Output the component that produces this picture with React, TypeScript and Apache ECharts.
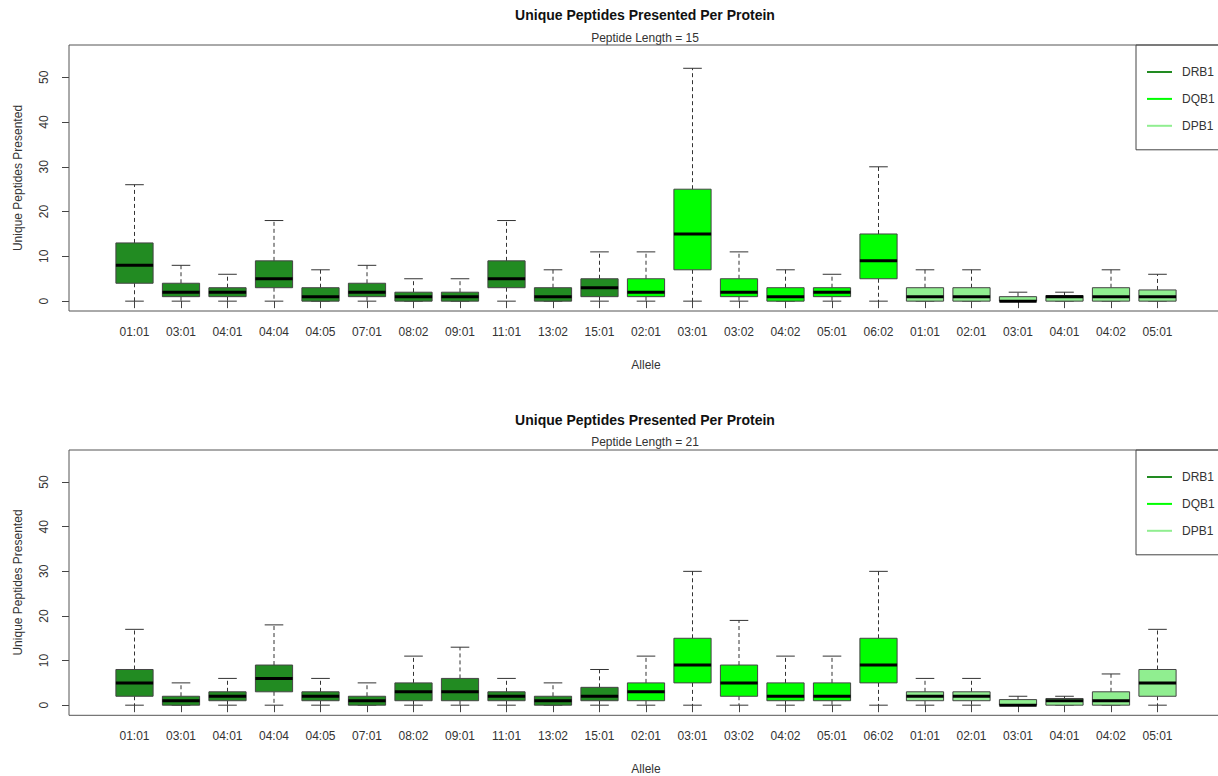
import React, { useEffect, useRef } from "react";
import * as echarts from "echarts";

// ---- data ----
const alleles = [
  "01:01", "03:01", "04:01", "04:04", "04:05", "07:01", "08:02", "09:01", "11:01", "13:02", "15:01",
  "02:01", "03:01", "03:02", "04:02", "05:01", "06:02",
  "01:01", "02:01", "03:01", "04:01", "04:02", "05:01",
];
const geneOfAllele = [
  "DRB1", "DRB1", "DRB1", "DRB1", "DRB1", "DRB1", "DRB1", "DRB1", "DRB1", "DRB1", "DRB1",
  "DQB1", "DQB1", "DQB1", "DQB1", "DQB1", "DQB1",
  "DPB1", "DPB1", "DPB1", "DPB1", "DPB1", "DPB1",
];
const genes = ["DRB1", "DQB1", "DPB1"];

// Peptide length = 15
const len15Min = [0, 0, 0, 0, 0, 0, 0, 0, 0, 0, 0, 0, 0, 0, 0, 0, 0, 0, 0, 0, 0, 0, 0];
const len15Q1 = [4, 1, 1, 3, 0, 1, 0, 0, 3, 0, 1, 1, 7, 1, 0, 1, 5, 0, 0, 0, 0, 0, 0];
const len15Median = [8, 2, 2, 5, 1, 2, 1, 1, 5, 1, 3, 2, 15, 2, 1, 2, 9, 1, 1, 0, 1, 1, 1];
const len15Q3 = [13, 4, 3, 9, 3, 4, 2, 2, 9, 3, 5, 5, 25, 5, 3, 3, 15, 3, 3, 1, 1.25, 3, 2.5];
const len15Max = [26, 8, 6, 18, 7, 8, 5, 5, 18, 7, 11, 11, 52, 11, 7, 6, 30, 7, 7, 2, 2, 7, 6];

// Peptide length = 21
const len21Min = [0, 0, 0, 0, 0, 0, 0, 0, 0, 0, 0, 0, 0, 0, 0, 0, 0, 0, 0, 0, 0, 0, 0];
const len21Q1 = [2, 0, 1, 3, 1, 0, 1, 1, 1, 0, 1, 1, 5, 2, 1, 1, 5, 1, 1, 0, 0, 0, 2];
const len21Median = [5, 1, 2, 6, 2, 1, 3, 3, 2, 1, 2, 3, 9, 5, 2, 2, 9, 2, 2, 0, 1, 1, 5];
const len21Q3 = [8, 2, 3, 9, 3, 2, 5, 6, 3, 2, 4, 5, 15, 9, 5, 5, 15, 3, 3, 1.25, 1.5, 3, 8];
const len21Max = [17, 5, 6, 18, 6, 5, 11, 13, 6, 5, 8, 11, 30, 19, 11, 11, 30, 6, 6, 2, 2, 7, 17];

const yTicks = [0, 10, 20, 30, 40, 50];
const mainTitle = "Unique Peptides Presented Per Protein";
const subTitles = ["Peptide Length = 15", "Peptide Length = 21"];

// ---- styles ----
const geneColors: Record<string, string> = { DRB1: "#228B22", DQB1: "#00FF00", DPB1: "#90EE90" };
const FONT = '"Liberation Sans", Arial, sans-serif';
const TEXT = "#333";

const panels = [
  { stats: [len15Min, len15Q1, len15Median, len15Q3, len15Max], top: 45, height: 266, titleY: 15, subY: 37.5 },
  { stats: [len21Min, len21Q1, len21Median, len21Q3, len21Max], top: 450, height: 265.3, titleY: 420, subY: 442.3 },
];

const GRID_LEFT = 111.25;
const GRID_WIDTH = 1069.5;
const FRAME_LEFT = 69;
const FRAME_WIDTH = 1156;

function renderBox(params: any, api: any) {
  const idx = api.value(0);
  const vMin = api.value(1), vQ1 = api.value(2), vMed = api.value(3), vQ3 = api.value(4), vMax = api.value(5);
  const band = api.size([1, 0])[0];
  const bw = band * 0.8;
  const cw = bw * 0.5;
  const cx = api.coord([idx, vMin])[0];
  const yMin = api.coord([idx, vMin])[1];
  const yQ1 = api.coord([idx, vQ1])[1];
  const yMed = api.coord([idx, vMed])[1];
  const yQ3 = api.coord([idx, vQ3])[1];
  const yMax = api.coord([idx, vMax])[1];
  const fill = geneColors[geneOfAllele[idx]];
  const wStyle = { stroke: "#333", lineWidth: 1, lineDash: [4, 3] };
  const cStyle = { stroke: "#333", lineWidth: 1 };
  return {
    type: "group",
    children: [
      { type: "line", shape: { x1: cx, y1: yQ3, x2: cx, y2: yMax }, style: wStyle },
      { type: "line", shape: { x1: cx, y1: yQ1, x2: cx, y2: yMin }, style: wStyle },
      { type: "line", shape: { x1: cx - cw / 2, y1: yMax, x2: cx + cw / 2, y2: yMax }, style: cStyle },
      { type: "line", shape: { x1: cx - cw / 2, y1: yMin, x2: cx + cw / 2, y2: yMin }, style: cStyle },
      {
        type: "rect",
        shape: { x: cx - bw / 2, y: yQ3, width: bw, height: Math.max(yQ1 - yQ3, 0.5) },
        style: { fill, stroke: "#444", lineWidth: 1 },
      },
      { type: "line", shape: { x1: cx - bw / 2, y1: yMed, x2: cx + bw / 2, y2: yMed }, style: { stroke: "#000", lineWidth: 3 } },
    ],
  };
}

function buildOption() {
  const grid: any[] = [];
  const xAxis: any[] = [];
  const yAxis: any[] = [];
  const series: any[] = [];
  const legend: any[] = [];
  const graphic: any[] = [];

  panels.forEach((p, pi) => {
    grid.push({ left: GRID_LEFT, top: p.top, width: GRID_WIDTH, height: p.height, containLabel: false });
    xAxis.push({
      type: "category",
      gridIndex: pi,
      data: alleles,
      boundaryGap: true,
      axisLine: { show: false },
      axisTick: { show: true, alignWithLabel: true, interval: 0, length: 7, lineStyle: { color: "#444" } },
      axisLabel: { interval: 0, margin: 15, fontSize: 12, color: TEXT, fontFamily: FONT },
      splitLine: { show: false },
      name: "Allele",
      nameLocation: "middle",
      nameGap: 48,
      nameTextStyle: { fontSize: 12, color: TEXT, fontFamily: FONT },
    });
    yAxis.push({
      type: "value",
      gridIndex: pi,
      min: -2.2,
      max: 57.2,
      offset: GRID_LEFT - FRAME_LEFT,
      axisLine: { show: false },
      axisTick: { show: true, length: 7, customValues: yTicks, lineStyle: { color: "#444" } },
      axisLabel: { customValues: yTicks, rotate: 90, margin: 19, fontSize: 12, color: TEXT, fontFamily: FONT },
      splitLine: { show: false },
      name: "Unique Peptides Presented",
      nameLocation: "middle",
      nameGap: 45,
      nameTextStyle: { fontSize: 12, color: TEXT, fontFamily: FONT },
    });
    genes.forEach((g) => {
      const data: any[] = [];
      alleles.forEach((_, i) => {
        if (geneOfAllele[i] === g) {
          data.push([i, p.stats[0][i], p.stats[1][i], p.stats[2][i], p.stats[3][i], p.stats[4][i]]);
        }
      });
      series.push({
        type: "custom",
        name: g,
        xAxisIndex: pi,
        yAxisIndex: pi,
        coordinateSystem: "cartesian2d",
        itemStyle: { color: geneColors[g] },
        encode: { x: 0, y: [1, 2, 3, 4, 5] },
        renderItem: renderBox,
        data,
      });
    });
    legend.push({
      orient: "vertical",
      left: 1136,
      top: p.top,
      selectedMode: false,
      itemWidth: 25,
      itemHeight: 2,
      itemGap: 14.9,
      padding: [21, 60, 18, 11],
      borderColor: "#444",
      borderWidth: 1,
      textStyle: { fontSize: 12, color: TEXT, fontFamily: FONT, padding: [0, 0, 0, 5] },
      data: genes.map((g) => ({ name: g, icon: "rect", itemStyle: { color: geneColors[g] } })),
    });
    graphic.push({
      type: "rect",
      silent: true,
      shape: { x: FRAME_LEFT, y: p.top, width: FRAME_WIDTH, height: p.height },
      style: { fill: "none", stroke: "#555", lineWidth: 1 },
      z: 10,
    });
    graphic.push({
      type: "text",
      x: GRID_LEFT + GRID_WIDTH / 2 - 1,
      y: p.titleY,
      style: {
        text: mainTitle,
        fill: "#111",
        font: `bold 14px ${FONT}`,
        textAlign: "center",
        textVerticalAlign: "middle",
        align: "center",
        verticalAlign: "middle",
      },
    });
    graphic.push({
      type: "text",
      x: GRID_LEFT + GRID_WIDTH / 2 - 1,
      y: p.subY,
      style: {
        text: subTitles[pi],
        fill: TEXT,
        font: `12px ${FONT}`,
        textAlign: "center",
        textVerticalAlign: "middle",
        align: "center",
        verticalAlign: "middle",
      },
    });
  });

  return {
    animation: false,
    backgroundColor: "#fff",
    textStyle: { fontFamily: FONT },
    grid,
    xAxis,
    yAxis,
    legend,
    series,
    graphic,
  };
}

export default function App() {
  const ref = useRef<HTMLDivElement>(null);
  useEffect(() => {
    if (!ref.current) return;
    const chart = echarts.init(ref.current, undefined, { renderer: "svg" });
    chart.setOption(buildOption() as any);
    return () => chart.dispose();
  }, []);
  return (
    <div
      ref={ref}
      style={{ position: "absolute", left: 0, top: 0, width: 1218, height: 776, background: "#fff" }}
    />
  );
}
